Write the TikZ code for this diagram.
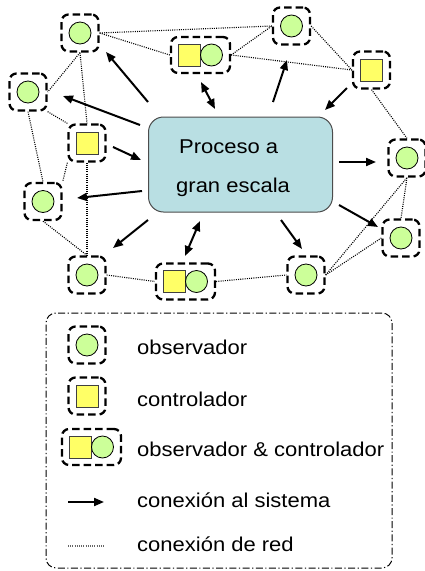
\documentclass[tikz,border=0pt]{standalone}
\usepackage{fontspec}
\setmainfont{Liberation Sans}[FakeStretch=1.1]
\usetikzlibrary{arrows.meta}
\definecolor{obsgreen}{HTML}{CCFF99}
\definecolor{ctrlyellow}{HTML}{FFFF66}
\definecolor{procblue}{HTML}{B9DFE3}
\newcommand{\obsunit}[2]{\node[dbox] (#1) at (#2) {}; \node[obs] (#1c) at (#1.center) {};}
\newcommand{\ctrlunit}[2]{\node[dbox] (#1) at (#2) {}; \node[ctrl] (#1s) at (#1.center) {};}
\newcommand{\bothunit}[2]{\node[wbox] (#1) at (#2) {}; \node[ctrl] (#1s) at ([xshift=-11pt]#1.center) {}; \node[obs] (#1c) at ([xshift=11pt]#1.center) {};}
\begin{document}
\begin{tikzpicture}[x=1pt,y=-1pt,
 dbox/.style={draw, line width=2.3pt, dash pattern=on 7.5pt off 4pt, rounded corners=7pt, inner sep=0pt, minimum width=37pt, minimum height=37pt},
 wbox/.style={dbox, minimum width=59pt, minimum height=36pt},
 obs/.style={circle, draw, fill=obsgreen, line width=0.8pt, minimum size=22pt, inner sep=0pt},
 ctrl/.style={draw=black!75, fill=ctrlyellow, line width=0.8pt, minimum size=22pt, inner sep=0pt},
 net/.style={line width=1.1pt, dash pattern=on 1pt off 1.2pt},
 arr/.style={line width=2pt, -{Triangle[length=10pt,width=8pt]}},
 darr/.style={line width=2pt, {Triangle[length=10pt,width=8pt]}-{Triangle[length=10pt,width=8pt]}},
 txt/.style={font=\fontsize{20}{24}\selectfont, inner sep=0pt, anchor=base west}]
\useasboundingbox (0,0) rectangle (425,571);

% central process
\node[draw=black!70, fill=procblue, line width=1pt, rounded corners=15pt, minimum width=184pt, minimum height=95pt] (P) at (240.5,164.5) {};
\node[txt] (P1) at (179,153) {Proceso a};
\node[txt] (P2) at (176,192) {gran escala};

% units
\obsunit{n1}{80,33}
\bothunit{n2}{200.5,55}
\obsunit{n3}{291.5,26}
\ctrlunit{n4}{371.5,70}
\obsunit{n5}{28,92}
\ctrlunit{n6}{87,143}
\obsunit{n7}{407,158}
\obsunit{n8}{43,201.5}
\obsunit{n9}{87,275}
\bothunit{n10}{185.5,281.5}
\obsunit{n11}{306,275}
\obsunit{n12}{401,238}

% network connections
\draw[net] (n1.east) -- (n3.west);
\draw[net] (n1.east) -- (n2.west);
\draw[net] (n2.east) -- (n3.west);
\draw[net] (n2.east) -- (n4.west);
\draw[net] (n3.east) -- (n4.west);
\draw[net] (n4.south) -- (n7.north);
\draw[net] (n1.south) -- (n5.east);
\draw[net] (n1.south) -- (n6.north);
\draw[net] (n5.south east) -- (n6.north west);
\draw[net] (n5.south) -- (n8.north);
\draw[net] (n6.south west) -- (n8.north east);
\draw[net] (n6.south) -- (n9.north);
\draw[net] (n8.south) -- (n9.north);
\draw[net] (n9.east) -- (n10.west);
\draw[net] (n10.east) -- (n11.west);
\draw[net] (n11.east) -- (n7.south);
\draw[net] (n11.east) -- (n12.west);
\draw[net] (n7.south) -- (n12.north);

% system connections
\coordinate (a1s) at (148,102); \coordinate (a1e) at (106,52);
\coordinate (a2s) at (140,125); \coordinate (a2e) at (63,96);
\coordinate (a3s) at (201,82);  \coordinate (a3e) at (215,109);
\coordinate (a4s) at (273,102); \coordinate (a4e) at (287,60);
\coordinate (a5s) at (347,88);  \coordinate (a5e) at (325,110);
\coordinate (a6s) at (113,147); \coordinate (a6e) at (141,160);
\coordinate (a7s) at (339,162); \coordinate (a7e) at (376,162);
\coordinate (a8s) at (142,191); \coordinate (a8e) at (77,198);
\coordinate (a9s) at (339,205); \coordinate (a9e) at (378,227);
\coordinate (a10s) at (148,220); \coordinate (a10e) at (113,248);
\coordinate (a11s) at (200,221); \coordinate (a11e) at (185,256);
\coordinate (a12s) at (281,220); \coordinate (a12e) at (302,249);
\draw[arr] (a1s) -- (a1e);
\draw[arr] (a2s) -- (a2e);
\draw[darr] (a3s) -- (a3e);
\draw[arr] (a4s) -- (a4e);
\draw[arr] (a5s) -- (a5e);
\draw[arr] (a6s) -- (a6e);
\draw[arr] (a7s) -- (a7e);
\draw[arr] (a8s) -- (a8e);
\draw[arr] (a9s) -- (a9e);
\draw[arr] (a10s) -- (a10e);
\draw[darr] (a11s) -- (a11e);
\draw[arr] (a12s) -- (a12e);

% legend
\node[draw, line width=1pt, dash pattern=on 7pt off 2.5pt on 1.2pt off 2.5pt, rounded corners=10pt, minimum width=346pt, minimum height=255pt] (L) at (219,440.5) {};
\obsunit{lg1}{87,345}
\ctrlunit{lg2}{87,396}
\bothunit{lg3}{91.5,447}
\coordinate (la1) at (68,502); \coordinate (la2) at (104,502);
\draw[arr] (la1) -- (la2);
\coordinate (ld1) at (68,546); \coordinate (ld2) at (104,546);
\draw[net, draw=black!60] (ld1) -- (ld2);
\node[txt] (t1) at (137,354) {observador};
\node[txt] (t2) at (137,406) {controlador};
\node[txt] (t3) at (137,456) {observador \& controlador};
\node[txt] (t4) at (137,507) {conexión al sistema};
\node[txt] (t5) at (137,551) {conexión de red};
\end{tikzpicture}
\end{document}
